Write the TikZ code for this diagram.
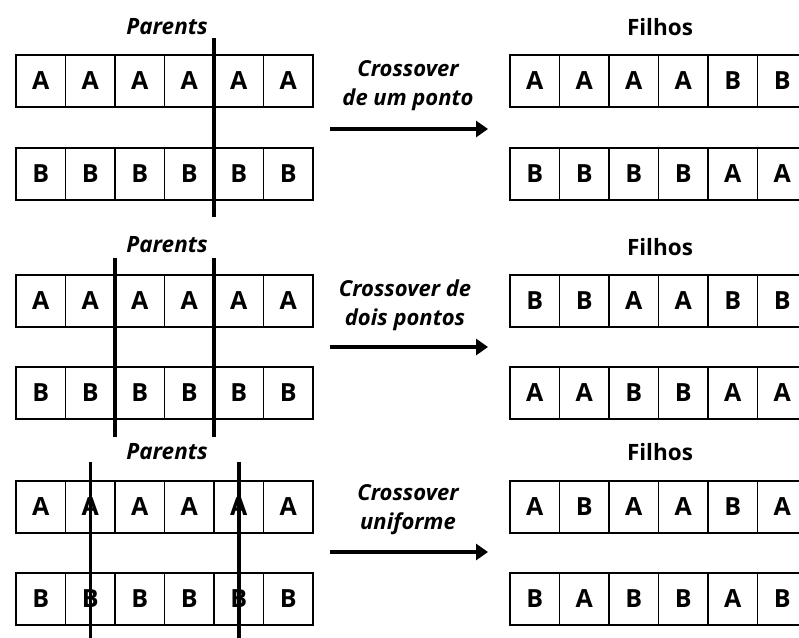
\documentclass[tikz,border=0pt]{standalone}
\usepackage{fontspec}
\setmainfont{Open Sans}
\usetikzlibrary{arrows.meta,calc}
\begin{document}
\begin{tikzpicture}[x=1pt,y=-1pt,
  cell/.style={draw, line width=1.8pt, minimum width=49.5pt, minimum height=52pt,
    inner sep=0pt, outer sep=0pt, font=\fontsize{25}{30}\selectfont\bfseries},
  title/.style={inner sep=0pt, font=\fontsize{22.5}{27}\selectfont\bfseries},
  oplab/.style={inner sep=0pt, align=center, font=\fontsize{22}{29}\selectfont\bfseries\itshape},
  cutline/.style={line width=3.5pt},
  oparrow/.style={line width=4pt, -{Triangle[length=12pt,width=16pt]}}
]
\useasboundingbox (0,0) rectangle (799,637);
\newcommand\cellrow[4]{%
  \foreach \L [count=\i] in {#4} {\node[cell] (#1\i) at ({#2+49.5*(\i-0.5)},#3) {\L};}}

% ---------- Panel 1 ----------
\node[title] (par1) at (167,27) {\itshape Parents};
\node[title] (fil1) at (660,27) {Filhos};
\cellrow{pa}{16}{81}{A,A,A,A,A,A}
\cellrow{pb}{16}{174}{B,B,B,B,B,B}
\cellrow{fa}{510}{81}{A,A,A,A,B,B}
\cellrow{fb}{510}{174}{B,B,B,B,A,A}
\draw[cutline] ($(pa4.north east)+(0,-17)$) -- ($(pb4.south east)+(0,17)$);
\node[oplab] (op1) at (408,86) {Crossover\\de um ponto};
\coordinate (a1s) at (330,129);
\coordinate (a1e) at (488,129);
\draw[oparrow] (a1s) -- (a1e);

% ---------- Panel 2 ----------
\node[title] (par2) at (167,245) {\itshape Parents};
\node[title] (fil2) at (660,247) {Filhos};
\cellrow{qa}{16}{301}{A,A,A,A,A,A}
\cellrow{qb}{16}{393}{B,B,B,B,B,B}
\cellrow{ga}{510}{301}{B,B,A,A,B,B}
\cellrow{gb}{510}{393}{A,A,B,B,A,A}
\draw[cutline] ($(qa2.north east)+(0,-17)$) -- ($(qb2.south east)+(0,18)$);
\draw[cutline] ($(qa4.north east)+(0,-17)$) -- ($(qb4.south east)+(0,18)$);
\node[oplab] (op2) at (405,305) {Crossover de\\dois pontos};
\coordinate (a2s) at (330,347);
\coordinate (a2e) at (488,347);
\draw[oparrow] (a2s) -- (a2e);

% ---------- Panel 3 ----------
\node[title] (par3) at (167,452) {\itshape Parents};
\node[title] (fil3) at (660,452) {Filhos};
\cellrow{ra}{16}{507}{A,A,A,A,A,A}
\cellrow{rb}{16}{599}{B,B,B,B,B,B}
\cellrow{ha}{510}{507}{A,B,A,A,B,A}
\cellrow{hb}{510}{599}{B,A,B,B,A,B}
\draw[cutline] ($(ra2.north)+(0,-19)$) -- ($(rb2.south)+(0,14)$);
\draw[cutline] ($(ra5.north)+(0,-19)$) -- ($(rb5.south)+(0,14)$);
\node[oplab] (op3) at (408,510) {Crossover\\uniforme};
\coordinate (a3s) at (330,552);
\coordinate (a3e) at (488,552);
\draw[oparrow] (a3s) -- (a3e);
\end{tikzpicture}
\end{document}
